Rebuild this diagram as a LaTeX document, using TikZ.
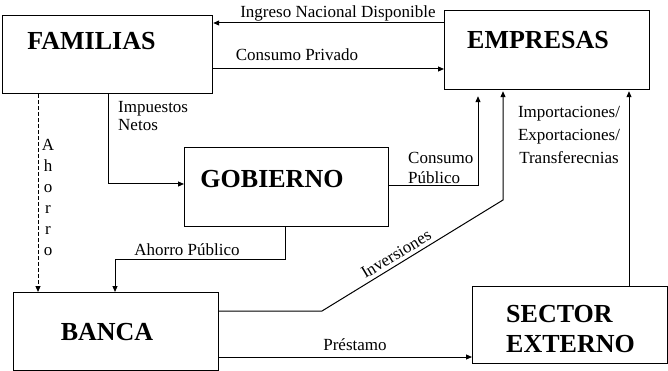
\documentclass[tikz,border=0pt]{standalone}
\usepackage{fontspec}
\setmainfont{Liberation Serif}
\usetikzlibrary{arrows.meta}
\begin{document}
\begin{tikzpicture}[x=1pt,y=-1pt,
  box/.style={draw, line width=1.2pt, anchor=north west, inner sep=0pt},
  title/.style={font=\fontsize{26}{31}\selectfont\bfseries, inner sep=0pt},
  lbl/.style={font=\fontsize{17}{20}\selectfont, inner sep=0pt},
  arr/.style={line width=1pt, -{Triangle[length=6pt,width=5pt]}}]
\useasboundingbox (0,0) rectangle (668,371);
% boxes
\node[box, minimum width=210pt, minimum height=78pt] (fam) at (2,15) {};
\node[box, minimum width=205pt, minimum height=79pt] (emp) at (444,10) {};
\node[box, minimum width=204pt, minimum height=79pt] (gob) at (184,147) {};
\node[box, minimum width=205pt, minimum height=78pt] (ban) at (13,292) {};
\node[box, minimum width=195pt, minimum height=77pt] (sec) at (472,286) {};
% titles
\node[title] (famt) at (91.5,41) {FAMILIAS};
\node[title] (empt) at (538,40) {EMPRESAS};
\node[title] (gobt) at (272,179) {GOBIERNO};
\node[title] (bant) at (107,332) {BANCA};
\node[title, align=left, anchor=west, font=\fontsize{26}{30}\selectfont\bfseries] (sect) at (506,329) {SECTOR\\EXTERNO};
% connectors
\draw[arr] (emp.west |- 0,23) -- (fam.east |- 0,23);
\draw[arr] (fam.east |- 0,69) -- (emp.west |- 0,69);
\draw[arr] (fam.south -| 108,0) |- (gob.west |- 0,184);
\draw[arr, dash pattern=on 4pt off 2pt] (fam.south -| 38,0) -- (ban.north -| 38,0);
\draw[arr] (gob.south -| 285,0) |- (115,259) -- (ban.north -| 115,0);
\draw[arr, shorten >=6pt] (gob.east |- 0,186) -| (emp.south -| 478,0);
\draw[arr, shorten >=1pt] (ban.east |- 0,311) -- (322,311) -- (503,200) -- (emp.south -| 503,0);
\draw[arr, shorten >=1pt] (sec.north -| 629,0) -- (emp.south -| 629,0);
\draw[arr] (ban.east |- 0,357) -- (sec.west |- 0,357);
% labels
\node[lbl, anchor=base] (l1) at (338,18) {Ingreso Nacional Disponible};
\node[lbl, anchor=base] (l2) at (297,61) {Consumo Privado};
\node[lbl, anchor=base west, align=left, font=\fontsize{17}{18.5}\selectfont] (l3) at (118,131) {Impuestos\\Netos};
\node[lbl, align=center, font=\fontsize{17}{21}\selectfont] (l4) at (48,197) {A\\h\\o\\r\\r\\o};
\node[lbl, anchor=base] (l5) at (187,255) {Ahorro Público};
\node[lbl, anchor=base west, align=left, font=\fontsize{17}{20.5}\selectfont] (l6) at (408,184) {Consumo\\Público};
\node[lbl, anchor=base, align=center, font=\fontsize{17}{23}\selectfont] (l7) at (569,164) {Importaciones/\\Exportaciones/\\Transferecnias};
\node[lbl, rotate=31] (l8) at (396,254) {Inversiones};
\node[lbl, anchor=base] (l9) at (355,350) {Préstamo};
\end{tikzpicture}
\end{document}
